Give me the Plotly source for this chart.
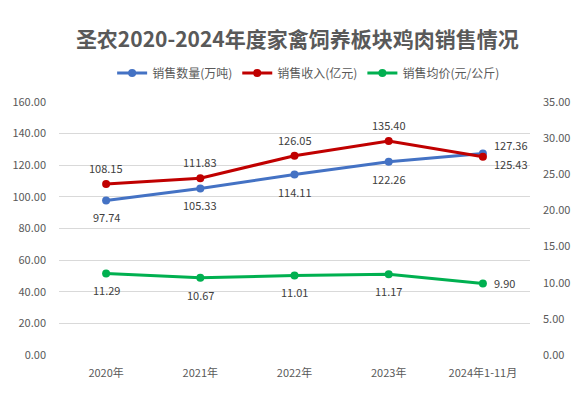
import plotly.graph_objects as go

categories = ["2020年", "2021年", "2022年", "2023年", "2024年1-11月"]
volume = [97.74, 105.33, 114.11, 122.26, 127.36]
revenue = [108.15, 111.83, 126.05, 135.40, 125.43]
price = [11.29, 10.67, 11.01, 11.17, 9.90]
left_ticks = [0, 20, 40, 60, 80, 100, 120, 140, 160]
right_ticks = [0, 5, 10, 15, 20, 25, 30, 35]

FONT = "Noto Sans CJK SC"
GRAY = "#595959"
LBL = dict(family=FONT, size=11, color="#404040")

fig = go.Figure()
fig.add_trace(go.Scatter(
    x=categories, y=volume, name="销售数量(万吨)", mode="lines+markers",
    line=dict(color="#4472C4", width=3), marker=dict(size=8, color="#4472C4"),
    cliponaxis=False,
))
fig.add_trace(go.Scatter(
    x=categories, y=revenue, name="销售收入(亿元)", mode="lines+markers",
    line=dict(color="#C00000", width=3), marker=dict(size=8, color="#C00000"),
    cliponaxis=False,
))
fig.add_trace(go.Scatter(
    x=categories, y=price, name="销售均价(元/公斤)", mode="lines+markers",
    line=dict(color="#00B050", width=3), marker=dict(size=8, color="#00B050"),
    yaxis="y2", cliponaxis=False,
))

annotations = []
for i, (c, v) in enumerate(zip(categories, volume)):
    if i < 4:
        annotations.append(dict(x=c, y=v, text=f"{v:.2f}", showarrow=False,
                                yshift=-17, font=LBL))
    else:
        annotations.append(dict(x=c, y=v, text=f"{v:.2f}", showarrow=False,
                                xanchor="left", xshift=9, yshift=9, font=LBL))
for i, (c, v) in enumerate(zip(categories, revenue)):
    if i < 4:
        annotations.append(dict(x=c, y=v, text=f"{v:.2f}", showarrow=False,
                                yshift=16, font=LBL))
    else:
        annotations.append(dict(x=c, y=v, text=f"{v:.2f}", showarrow=False,
                                xanchor="left", xshift=9, yshift=-7, font=LBL))
for i, (c, v) in enumerate(zip(categories, price)):
    if i < 4:
        annotations.append(dict(x=c, y=v, yref="y2", text=f"{v:.2f}", showarrow=False,
                                yshift=-17, font=LBL))
    else:
        annotations.append(dict(x=c, y=v, yref="y2", text=f"{v:.2f}", showarrow=False,
                                xanchor="left", xshift=9, yshift=0, font=LBL))

fig.update_layout(
    width=583, height=397,
    margin=dict(l=55, r=53, t=102, b=42),
    paper_bgcolor="white", plot_bgcolor="white",
    font=dict(family=FONT, color=GRAY, size=11),
    title=dict(text="<b>圣农2020-2024年度家禽饲养板块鸡肉销售情况</b>",
               x=0.51, xanchor="center", y=1 - 40 / 397, yanchor="middle",
               font=dict(family=FONT, size=21, color=GRAY)),
    legend=dict(orientation="h", x=0.53, xanchor="center", y=1 + (102 - 73) / 253,
                yanchor="middle", font=dict(family=FONT, size=12, color=GRAY),
                itemwidth=30, traceorder="normal"),
    showlegend=True,
    annotations=annotations,
    xaxis=dict(type="category", range=[-0.5, 4.5], showgrid=False, showline=False,
               ticks="", ticklabelstandoff=10, tickfont=dict(size=11, color=GRAY)),
    yaxis=dict(range=[0, 160], tickvals=left_ticks, tickformat=".2f",
               showgrid=True, gridcolor="#D9D9D9", gridwidth=1, zeroline=False,
               ticks="", ticklabelstandoff=12, tickfont=dict(size=11, color=GRAY)),
    yaxis2=dict(range=[0, 35], tickvals=right_ticks, tickformat=".2f",
                overlaying="y", side="right", showgrid=False, zeroline=False,
                ticks="", ticklabelstandoff=12, tickfont=dict(size=11, color=GRAY)),
)

fig.write_html("out.html")
